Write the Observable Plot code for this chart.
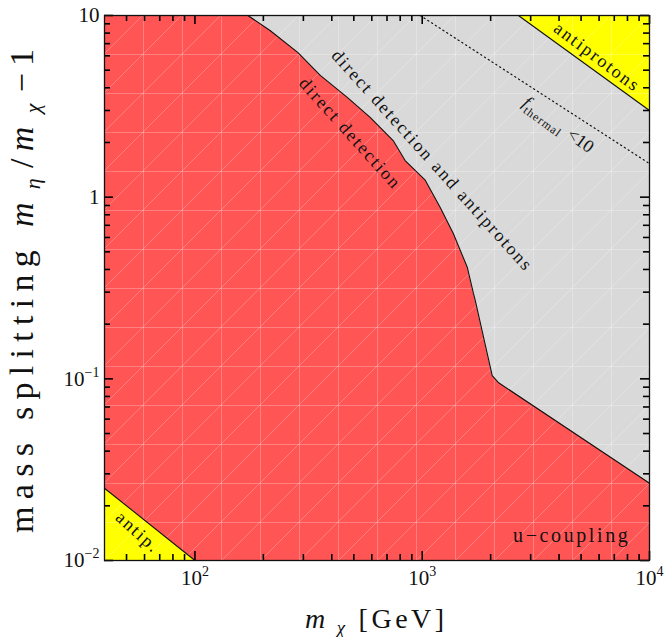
<!DOCTYPE html>
<html><head><meta charset="utf-8">
<script src="https://cdn.jsdelivr.net/npm/d3@7"></script>
<script src="https://cdn.jsdelivr.net/npm/@observablehq/plot@0.6"></script>
<style>body{margin:0;background:#fff}#chart{width:665px;height:637px}</style>
</head><body><div id="chart"></div>
<script>
// ---- data (m_chi in GeV, mass splitting) ----
const ddX = [40, 171, 214, 284, 356, 468, 590, 745, 841, 1031, 1200, 1370, 1580, 1680, 1711, 2032, 2160, 10000];
const ddY = [10, 10, 8.27, 6.25, 4.68, 3.54, 2.75, 2.05, 1.59, 1.24, 0.878, 0.631, 0.410, 0.295, 0.270, 0.104, 0.0955, 0.0266];
const apTopX = [2650, 10000];
const apTopY = [10, 3.0];
const apBotX = [40, 100];
const apBotY = [0.025, 0.01];
const thermX = [980, 10000];
const thermY = [10, 1.53];

const xMajor = [100, 1000, 10000];
const xMajorExp = ["2", "3", "4"];
const xMinor = [50, 60, 70, 80, 90, 200, 300, 400, 500, 600, 700, 800, 900, 2000, 3000, 4000, 5000, 6000, 7000, 8000, 9000];
const yMajor = [0.01, 0.1, 1, 10];
const yMajorBase = ["10", "10", "1", "10"];
const yMajorExp = ["−2", "−1", "", ""];
const yMinor = [0.02, 0.03, 0.04, 0.05, 0.06, 0.07, 0.08, 0.09, 0.2, 0.3, 0.4, 0.5, 0.6, 0.7, 0.8, 0.9, 2, 3, 4, 5, 6, 7, 8, 9];

const annText = ["direct detection", "direct detection and antiprotons", "antiprotons", "antip."];
const annX = [482, 1107, 5885, 56.1];
const annY = [2.24, 1.59, 5.90, 0.01429];
const annRotate = [48, 48, 37, 42];
const cornerText = "u−coupling";
const cornerX = 8240, cornerY = 0.0137;

const fLabelX = 3972, fLabelY = 2.51;

// ---- tables ----
const zip = (xs, ys) => xs.map((x, i) => ({x, y: ys[i]}));
const dd = zip(ddX, ddY);
const ddLine = dd.filter(d => d.y < 10 || d.x === 171);
const apTop = zip(apTopX, apTopY);
const apBot = zip(apBotX, apBotY);
const therm = zip(thermX, thermY);
const ann = annText.map((t, i) => ({t, x: annX[i], y: annY[i], r: annRotate[i]}));

const FONT = "'Liberation Serif', 'Times New Roman', serif";
const ink = "#111";
const X0 = 40, X1 = 10000, Y0 = 0.01, Y1 = 10;
const tk = {stroke: "#000", strokeWidth: 1.6};

const chart = Plot.plot({
  width: 665, height: 637,
  marginLeft: 104, marginRight: 16, marginTop: 15, marginBottom: 77,
  x: {type: "log", domain: [X0, X1], axis: null},
  y: {type: "log", domain: [Y0, Y1], axis: null},
  style: {fontFamily: FONT, background: "white"},
  marks: [
    Plot.frame({fill: "#d9d9d9", stroke: "none"}),
    Plot.areaY(dd, {x: "x", y1: () => Y0, y2: "y", fill: "#ff5555"}),
    Plot.areaY(apTop, {x: "x", y1: "y", y2: () => Y1, fill: "#ffff00"}),
    Plot.areaY(apBot, {x: "x", y1: () => Y0, y2: "y", fill: "#ffff00"}),
    Plot.line(ddLine, {x: "x", y: "y", stroke: ink, strokeWidth: 1.1}),
    Plot.line(apTop, {x: "x", y: "y", stroke: ink, strokeWidth: 1.1}),
    Plot.line(apBot, {x: "x", y: "y", stroke: ink, strokeWidth: 1.1}),
    Plot.line(therm, {x: "x", y: "y", stroke: ink, strokeWidth: 1.2, strokeDasharray: "1.2,3.3"}),
    // inward ticks on all four sides
    Plot.ruleX(xMajor, {x: d => d, y1: () => Y0, y2: () => Y0, insetBottom: 9, ...tk}),
    Plot.ruleX(xMinor, {x: d => d, y1: () => Y0, y2: () => Y0, insetBottom: 6, ...tk}),
    Plot.ruleX(xMajor, {x: d => d, y1: () => Y1, y2: () => Y1, insetBottom: -9, ...tk}),
    Plot.ruleX(xMinor, {x: d => d, y1: () => Y1, y2: () => Y1, insetBottom: -6, ...tk}),
    Plot.ruleY(yMajor, {y: d => d, x1: () => X0, x2: () => X0, insetRight: -9, ...tk}),
    Plot.ruleY(yMinor, {y: d => d, x1: () => X0, x2: () => X0, insetRight: -6, ...tk}),
    Plot.ruleY(yMajor, {y: d => d, x1: () => X1, x2: () => X1, insetRight: 9, ...tk}),
    Plot.ruleY(yMinor, {y: d => d, x1: () => X1, x2: () => X1, insetRight: 6, ...tk}),
    Plot.frame({stroke: ink, strokeWidth: 1.3}),
    // tick labels
    Plot.text(xMajor, {x: d => d, y: () => Y0, dy: 18, text: d => "10", fontSize: 21, textAnchor: "middle", fill: ink}),
    Plot.text(yMajor, {x: () => X0, y: d => d, dx: -5, text: (d, i) => yMajorBase[i], fontSize: 21, textAnchor: "end", fill: ink}),
    // annotations
    Plot.text(ann, {x: "x", y: "y", text: "t", rotate: "r", fontSize: 18, textAnchor: "middle", fill: ink}),
    Plot.text([0], {x: () => fLabelX, y: () => fLabelY, text: () => "f", rotate: 36, fontSize: 18, textAnchor: "middle", fill: ink}),
    Plot.text([cornerText], {x: () => cornerX, y: () => cornerY, text: d => d, fontSize: 20, textAnchor: "end", fill: ink})
  ]
});

const svg = d3.select(chart);

// mesh overlay (Mathematica triangulation artifacts), placed just above the filled regions
const defs = svg.insert("defs", ":first-child");
const pat = defs.append("pattern").attr("id", "mesh").attr("patternUnits", "userSpaceOnUse")
  .attr("x", 104).attr("y", 15).attr("width", 39).attr("height", 39);
pat.append("path").attr("d", "M0,0.5H39M0.5,0V39M0,39L39,0")
  .attr("stroke", "white").attr("stroke-opacity", 0.25).attr("fill", "none").attr("stroke-width", 1);
const areaGroups = svg.selectAll('g[aria-label="area"]').nodes();
const meshRect = document.createElementNS("http://www.w3.org/2000/svg", "rect");
meshRect.setAttribute("x", 104); meshRect.setAttribute("y", 15);
meshRect.setAttribute("width", 545); meshRect.setAttribute("height", 545);
meshRect.setAttribute("fill", "url(#mesh)");
if (areaGroups.length) areaGroups[areaGroups.length - 1].after(meshRect); else chart.appendChild(meshRect);

// text mark groups in order: x tick labels, y tick labels, annotations, f label, corner
let groups = svg.selectAll('g[aria-label="text"]').nodes();
if (groups.length !== 5) groups = svg.selectAll("g").filter(function() { return d3.select(this).selectChildren("text").size() > 0; }).nodes();

d3.select(groups[0]).selectAll("text").each(function(i) {
  const t = d3.select(this); t.text("");
  t.append("tspan").text("10");
  t.append("tspan").attr("dy", -9).attr("font-size", 14).text(xMajorExp[i]);
});
d3.select(groups[1]).selectAll("text").each(function(i) {
  const t = d3.select(this); t.text("");
  t.append("tspan").text(yMajorBase[i]);
  if (yMajorExp[i]) t.append("tspan").attr("dy", -9).attr("font-size", 14).text(yMajorExp[i]);
});
d3.select(groups[2]).selectAll("text").attr("letter-spacing", 2.0);
d3.select(groups[3]).selectAll("text").each(function() {
  const t = d3.select(this); t.text("");
  t.append("tspan").attr("font-style", "italic").text("f");
  t.append("tspan").attr("dy", 5).attr("font-size", 12).attr("letter-spacing", 1).text("thermal");
  t.append("tspan").attr("dy", -5).attr("dx", 6).text("<10");
});
d3.select(groups[4]).selectAll("text").attr("letter-spacing", 2.6);

// axis titles
const yt = svg.append("text").attr("transform", "translate(33,533) rotate(-90)")
  .attr("text-anchor", "start").attr("font-size", 34).attr("letter-spacing", 7.3).attr("fill", ink);
yt.append("tspan").text("mass splitting ");
yt.append("tspan").attr("font-style", "italic").text("m");
yt.append("tspan").attr("font-style", "italic").attr("font-size", 22).attr("dy", 7).attr("dx", 6).text("η");
yt.append("tspan").attr("dy", -7).attr("dx", 3).text("/");
yt.append("tspan").attr("font-style", "italic").text("m");
yt.append("tspan").attr("font-style", "italic").attr("font-size", 22).attr("dy", 7).attr("dx", 6).text("χ");
yt.append("tspan").attr("dy", -7).attr("dx", 4).text("−1");

const xt = svg.append("text").attr("transform", "translate(305,628)")
  .attr("text-anchor", "start").attr("font-size", 28).attr("letter-spacing", 3.5).attr("fill", ink);
xt.append("tspan").attr("font-style", "italic").text("m");
xt.append("tspan").attr("font-style", "italic").attr("font-size", 19).attr("dy", 6).attr("dx", 8).text("χ");
xt.append("tspan").attr("dy", -6).attr("dx", 10).text("[GeV]");

document.getElementById("chart").appendChild(chart);
</script>
</body></html>
